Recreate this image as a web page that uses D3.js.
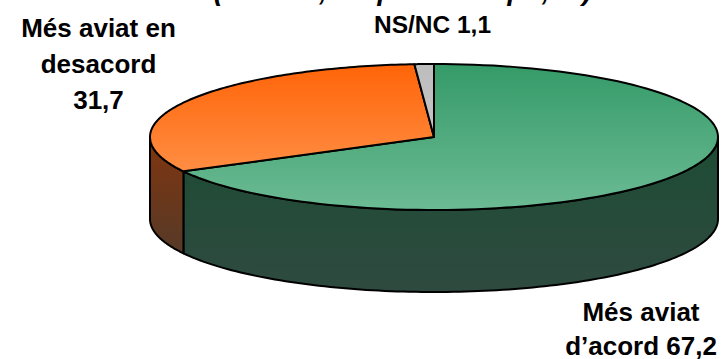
<!DOCTYPE html>
<html><head><meta charset="utf-8">
<script src="https://cdn.jsdelivr.net/npm/d3@7"></script>
<style>html,body{margin:0;background:#fff}svg{display:block}text{font-family:"Liberation Sans",Arial,sans-serif;font-weight:bold;fill:#000}</style>
</head><body><script>
const categories = ["Més aviat d’acord", "Més aviat en desacord", "NS/NC"];
const values = [67.2, 31.7, 1.1];
const titleText = "(n=1000; resposta = 1 pr., %)";
const W = 722, H = 359, cx = 434, cy = 137, rx = 284, ry = 73, depth = 82;
const svg = d3.select("body").append("svg").attr("width", W).attr("height", H);
const defs = svg.append("defs");
function grad(id, a, b, y1, y2) {
  const g = defs.append("linearGradient").attr("id", id).attr("gradientUnits", "userSpaceOnUse")
    .attr("x1", 0).attr("x2", 0).attr("y1", y1).attr("y2", y2);
  g.append("stop").attr("offset", 0).attr("stop-color", a);
  g.append("stop").attr("offset", 1).attr("stop-color", b);
}
grad("gTop0", "#359a68", "#6cbb94", 64, 210);
grad("gTop1", "#ff6408", "#ff8f45", 64, 175);
grad("gTop2", "#bdbdbd", "#c6c6c6", 64, 137);
grad("gWall0", "#1c4c33", "#2f4a40", 130, 295);
grad("gWall1", "#80350f", "#553a28", 140, 255);
const pie = d3.pie().sort(null)(values);
const ex = a => cx + rx * Math.sin(a), ey = a => cy - ry * Math.cos(a);
const line = d3.line();
const arcPts = (a0, a1, dy = 0) => d3.range(0, 121).map(i => {
  const a = a0 + (a1 - a0) * i / 120;
  return [ex(a), ey(a) + dy];
});
const HALF = Math.PI / 2;
const walls = pie.map((d, i) => {
  const a0 = Math.max(d.startAngle, HALF), a1 = Math.min(d.endAngle, 3 * HALF);
  return a1 > a0 ? {i, a0, a1} : null;
}).filter(Boolean);
svg.selectAll(".wall").data(walls).join("path").attr("class", "wall")
  .attr("d", d => line([...arcPts(d.a0, d.a1), ...arcPts(d.a1, d.a0, depth)]) + "Z")
  .attr("fill", d => `url(#gWall${d.i})`).attr("stroke", "#000").attr("stroke-width", 2).attr("stroke-linejoin", "round");
svg.selectAll(".top").data(pie).join("path").attr("class", "top")
  .attr("d", d => line([[cx, cy], ...arcPts(d.startAngle, d.endAngle)]) + "Z")
  .attr("fill", (d, i) => `url(#gTop${i})`).attr("stroke", "#000").attr("stroke-width", 2).attr("stroke-linejoin", "round");
const fmt = v => v.toFixed(1).replace(".", ",");
const labels = [
  {x: 641, y: [321, 355], size: 26, t: ["Més aviat", "d’acord " + fmt(values[0])]},
  {x: 98.5, y: [37, 73, 109], size: 26, t: ["Més aviat en", "desacord", fmt(values[1])]},
  {x: 432.5, y: [33], size: 24.5, t: [categories[2] + " " + fmt(values[2])]}
];
labels.forEach(l => l.t.forEach((s, i) => svg.append("text").attr("x", l.x).attr("y", l.y[i]).attr("font-size", l.size).attr("text-anchor", "middle").text(s)));
svg.append("text").attr("x", 402.5).attr("y", 0).attr("font-size", 28).attr("text-anchor", "middle").attr("font-style", "italic").text(titleText);
</script></body></html>
